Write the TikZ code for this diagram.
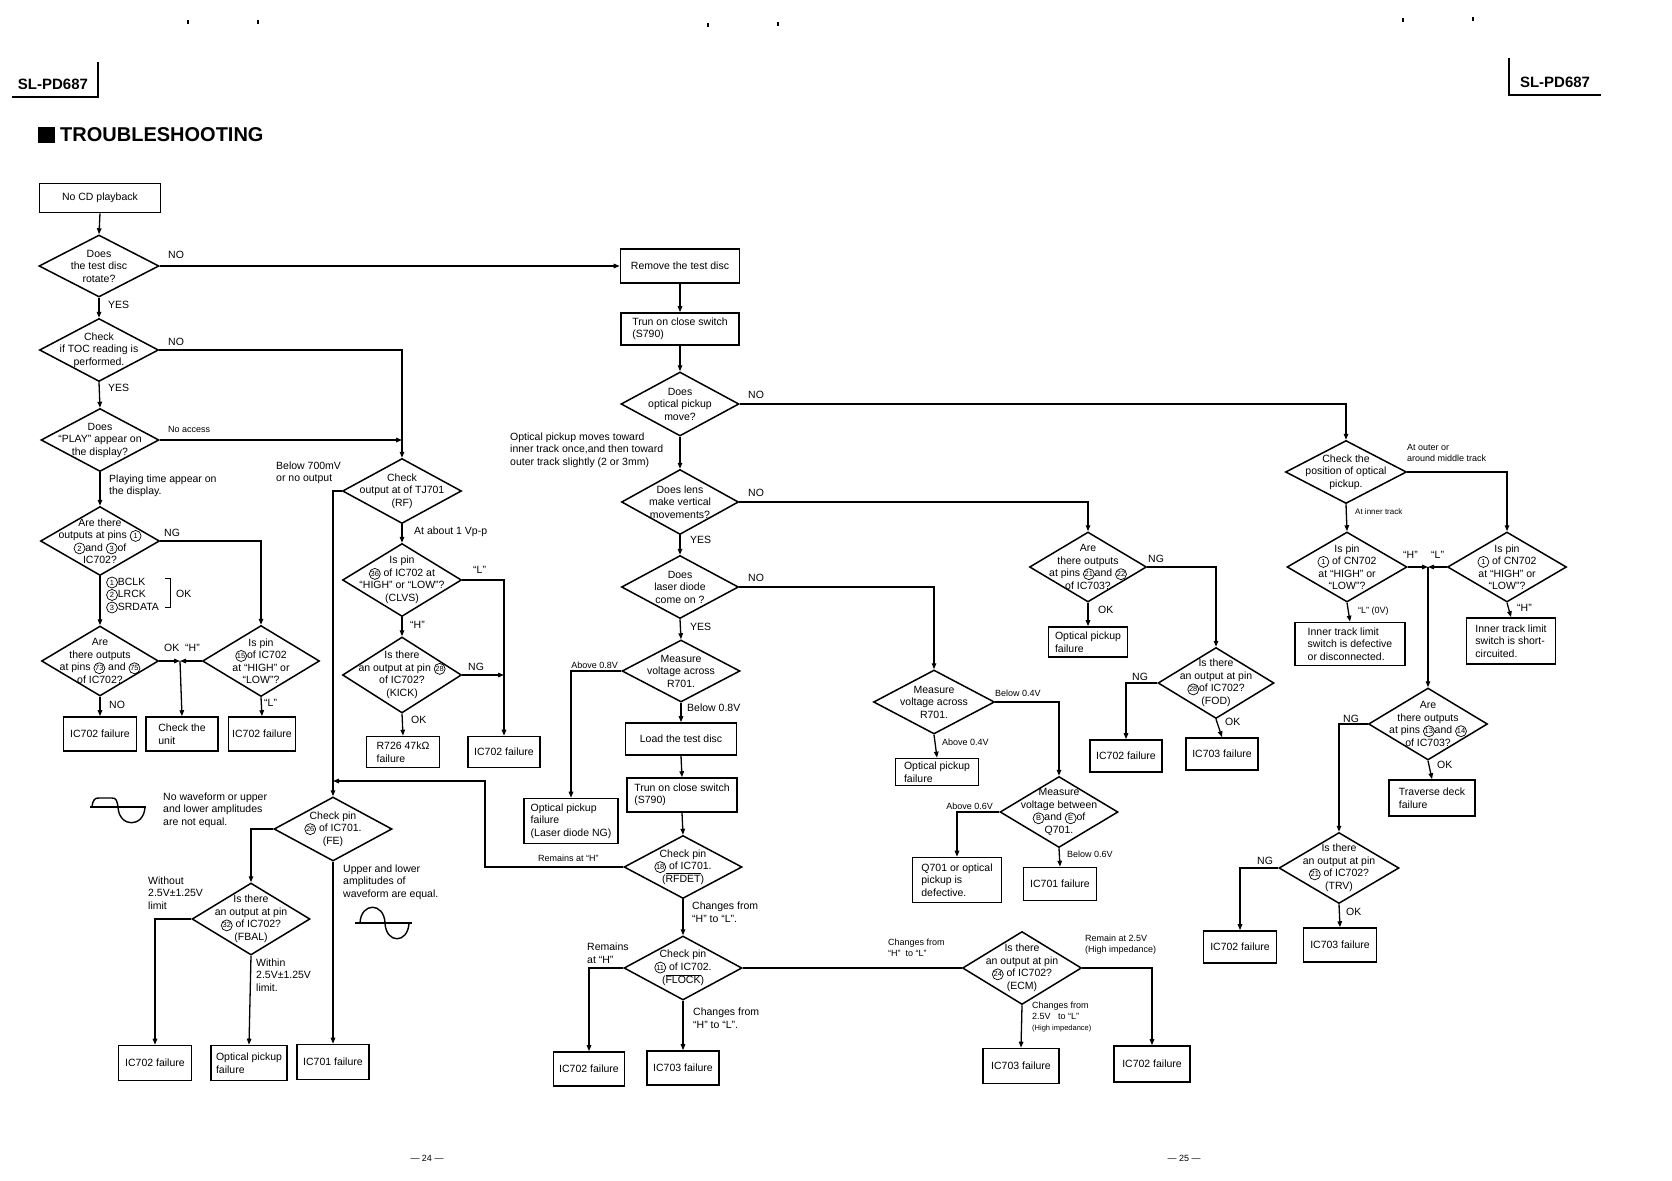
\documentclass[tikz,border=0pt]{standalone}
\usepackage{fontspec}
\setmainfont{Liberation Sans}
\usetikzlibrary{shapes.geometric,arrows.meta}
\newcommand\cn[1]{\tikz[baseline=(cnx.base)]\node[draw,circle,line width=0.7pt,inner sep=0.3pt,minimum size=11pt,font=\fontsize{7.5}{7.5}\selectfont](cnx){#1};}
\newcommand\ovl[1]{$\overline{\hbox{#1}}$}
\newcommand\Dia[6]{\node[dia,minimum width=#4,minimum height=#5] (#1) at (#2,#3) {}; \node[dtext] (#1t) at (#1) {#6};}
\tikzset{
  dia/.style={draw, diamond, line width=1.5pt, inner sep=0pt},
  dtext/.style={align=center, font=\fontsize{10.5}{12.5}\selectfont, inner sep=0pt},
  box/.style={draw, rectangle, line width=1.6pt, inner sep=2pt, font=\fontsize{10.5}{12.5}\selectfont},
  lbl/.style={font=\fontsize{10.5}{12.5}\selectfont, align=left, inner sep=0pt, anchor=west},
  slbl/.style={font=\fontsize{9}{11}\selectfont, align=left, inner sep=0pt, anchor=west},
  conn/.style={line width=1.3pt},
  arr/.style={conn, -{Triangle[length=6pt,width=4.5pt]}},
}
\begin{document}
\begin{tikzpicture}[x=1pt,y=-1pt]
\fill[white] (0,0) rectangle (1672,1180);
\useasboundingbox (0,0) rectangle (1672,1180);

% scan marks
\fill (187,20) rectangle (189,24);
\fill (257,20) rectangle (259,24);
\fill (707,23) rectangle (709,27);
\fill (777,22) rectangle (779,26);
\fill (1402,18) rectangle (1404,22);
\fill (1472,17) rectangle (1474,21);

% headers
\node[font=\fontsize{15}{15}\selectfont\bfseries] (hl) at (53,84) {SL-PD687};
\draw[line width=1.2pt] (12,97) -- (98,97) -- (98,62);
\node[font=\fontsize{15}{15}\selectfont\bfseries] (hr) at (1555,82) {SL-PD687};
\draw[line width=1.2pt] (1509,58) -- (1509,95) -- (1601,95);
\fill (38,127) rectangle (55,143);
\node[anchor=west, font=\fontsize{20}{20}\selectfont\bfseries, inner sep=0pt] (title) at (60,135) {TROUBLESHOOTING};
\node[font=\fontsize{9}{9}\selectfont] (p24) at (427,1158) {— 24 —};
\node[font=\fontsize{9}{9}\selectfont] (p25) at (1184,1158) {— 25 —};

% ---------- left column ----------
\node[box, minimum width=121, minimum height=29] (start) at (100,198) {No CD playback};
\Dia{d1}{99}{266}{120}{62}{Does\\the test disc\\rotate?}
\Dia{d2}{99}{350}{119}{63}{Check\\if TOC reading is\\performed.}
\Dia{d3}{100}{440}{118}{63}{Does\\“PLAY” appear on\\the display?}
\Dia{d4}{100}{541}{119}{69}{Are there\\outputs at pins \cn{1}\\\cn{2}and \cn{3}of\\IC702?}
\Dia{d5}{100}{661}{117}{70}{Are\\there outputs\\at pins \cn{73} and \cn{75}\\of IC702?}
\Dia{d6}{261}{661}{117}{71}{Is pin\\\cn{15}of IC702\\at “HIGH” or\\“LOW”?}
\node[box, minimum width=73, minimum height=34] (f1) at (100,734) {IC702 failure};
\node[box, minimum width=72, minimum height=34, align=left] (chk) at (182,734) {Check the\\unit};
\node[box, minimum width=67, minimum height=34] (f2) at (262,734) {IC702 failure};
\coordinate (j1) at (180,661);

\draw[arr] (start.south) -- (d1.north);
\draw[arr] (d1.south) -- (d2.north);
\draw[arr] (d2.south) -- (d3.north);
\draw[arr] (d3.south) -- (d4.north);
\draw[arr] (d4.south) -- (d5.north);
\draw[arr] (d4.east) -| (d6.north);
\draw[arr] (d5.east) -- (j1);
\draw[arr] (d6.west) -- (j1);
\draw[arr] (j1) -- (chk.north);
\draw[arr] (d5.south) -- (f1.north);
\draw[arr] (d6.south) -- (f2.north);

\node[lbl] (l1) at (168,255) {NO};
\node[lbl] (l2) at (108,305) {YES};
\node[lbl] (l3) at (168,342) {NO};
\node[lbl] (l4) at (108,388) {YES};
\node[slbl] (l5) at (168,429) {No access};
\node[lbl] (l6) at (109,486) {Playing time appear on\\the display.};
\node[lbl] (l7) at (164,533) {NG};
\node[lbl] (l8) at (106,595) {\cn{1}BCLK\\\cn{2}LRCK\\\cn{3}SRDATA};
\draw[line width=1pt] (165,578) -- (170,578) -- (170,607) -- (165,607);
\node[lbl] (l9) at (176,594) {OK};
\node[lbl] (l10) at (164,648) {OK\ \ “H”};
\node[lbl] (l11) at (109,705) {NO};
\node[lbl] (l12) at (264,703) {“L”};

% ---------- RF column ----------
\Dia{rf}{402}{491}{119}{65}{Check\\output at of TJ701\\(RF)}
\Dia{clvs}{402}{580}{119}{73}{Is pin\\\cn{36} of IC702 at\\“HIGH” or “LOW”?\\(CLVS)}
\Dia{kick}{402}{675}{119}{76}{Is there\\an output at pin \cn{28}\\of IC702?\\(KICK)}
\node[box, minimum width=73, minimum height=31, align=left] (r726) at (403,752) {R726 47kΩ\\failure};
\node[box, minimum width=72, minimum height=31] (f3) at (504,752) {IC702 failure};

\draw[arr] (d2.east) -| (rf.north);
\draw[arr] (d3.east) -- (rf.north |- d3.east);
\draw[arr] (rf.south) -- (clvs.north);
\draw[arr] (clvs.south) -- (kick.north);
\draw[arr] (clvs.east) -| (f3.north);
\draw[arr] (kick.east) -- (f3.north |- kick.east);
\draw[arr] (kick.south) -- (r726.north);

\node[lbl] (l13) at (276,473) {Below 700mV\\or no output};
\node[lbl] (l14) at (414,532) {At about 1 Vp-p};
\node[lbl] (l15) at (473,570) {“L”};
\node[lbl] (l16) at (410,625) {“H”};
\node[lbl] (l17) at (468,667) {NG};
\node[lbl] (l18) at (411,720) {OK};

% ---------- FE / FBAL ----------
\Dia{fe}{333}{829}{118}{64}{Check pin\\\cn{26} of IC701.\\(FE)}
\Dia{fbal}{251}{919}{118}{72}{Is there\\an output at pin\\\cn{32} of IC702?\\(FBAL)}
\node[box, minimum width=73, minimum height=35] (f6) at (155,1063) {IC702 failure};
\node[box, minimum width=76, minimum height=35, align=left] (opf) at (249,1063) {Optical pickup\\failure};
\node[box, minimum width=72, minimum height=35] (f701) at (333,1062) {IC701 failure};

\draw[arr] (rf.west) -| (fe.north);
\draw[arr] (fe.west) -| (fbal.north);
\draw[arr] (fe.south) -- (f701.north);
\draw[arr] (fbal.west) -| (f6.north);
\draw[arr] (fbal.south) -- (opf.north);

\node[lbl] (l19) at (163,810) {No waveform or upper\\and lower amplitudes\\are not equal.};
\node[lbl] (l20) at (343,882) {Upper and lower\\amplitudes of\\waveform are equal.};
\node[lbl] (l21) at (148,893) {Without\\2.5V±1.25V\\limit};
\node[lbl] (l22) at (256,975) {Within\\2.5V±1.25V\\limit.};

% waveforms
\draw[line width=1.2pt] (90,807) -- (146,807);
\draw[line width=1.4pt] (92,807) .. controls (93,799) and (95,798) .. (99,798) -- (112,798) .. controls (116,798) and (117,800) .. (118,807) .. controls (119,828) and (144,828) .. (145,807);
\draw[line width=1.2pt] (355,923) -- (412,923);
\draw[line width=1.4pt] (360,923) .. controls (361,902) and (384,902) .. (385,923) .. controls (386,944) and (408,944) .. (409,923);

% ---------- centre column ----------
\node[box, minimum width=119, minimum height=34] (rem) at (680,266) {Remove the test disc};
\node[box, minimum width=118, minimum height=32, align=left] (trun1) at (680,329) {Trun on close switch\\(S790)};
\Dia{mv}{680}{404}{118}{64}{Does\\optical pickup\\move?}
\Dia{lens}{680}{502}{117}{65}{Does lens\\make vertical\\movements?}
\Dia{laser}{680}{587}{117}{63}{Does\\laser diode\\come on ?}
\Dia{ra}{681}{671}{118}{62}{Measure\\voltage across\\R701.}
\node[box, minimum width=94, minimum height=45, align=left] (opl) at (571,821) {Optical pickup\\failure\\(Laser diode NG)};
\node[box, minimum width=111, minimum height=32] (load) at (681,739) {Load the test disc};
\node[box, minimum width=110, minimum height=34, align=left] (trun2) at (682,795) {Trun on close switch\\(S790)};
\Dia{rfdet}{683}{867}{118}{63}{Check pin\\\cn{18} of IC701.\\(\ovl{RFDET})}
\Dia{flock}{683}{968}{118}{64}{Check pin\\\cn{11} of IC702.\\(\ovl{FLOCK})}
\node[box, minimum width=71, minimum height=34] (f5) at (589,1069) {IC702 failure};
\node[box, minimum width=72, minimum height=34] (f703a) at (683,1068) {IC703 failure};
\coordinate (c1) at (485,781);
\coordinate (c2) at (333,781);

\draw[arr] (d1.east) -- (rem.west);
\draw[arr] (rem.south) -- (trun1.north);
\draw[arr] (trun1.south) -- (mv.north);
\draw[arr] (mv.south) -- (lens.north);
\draw[arr] (lens.south) -- (laser.north);
\draw[arr] (laser.south) -- (ra.north);
\draw[arr] (ra.west) -| (opl.north);
\draw[arr] (ra.south) -- (load.north);
\draw[arr] (load.south) -- (trun2.north);
\draw[arr] (trun2.south) -- (rfdet.north);
\draw[arr] (rfdet.west) -| (c1) -- (c2);
\draw[arr] (rfdet.south) -- (flock.north);
\draw[arr] (flock.west) -| (f5.north);
\draw[arr] (flock.south) -- (f703a.north);

\node[lbl] (l23) at (748,395) {NO};
\node[lbl] (l24) at (510,450) {Optical pickup moves toward\\inner track once,and then toward\\outer track slightly (2 or 3mm)};
\node[lbl] (l25) at (748,493) {NO};
\node[lbl] (l26) at (690,540) {YES};
\node[lbl] (l27) at (748,578) {NO};
\node[lbl] (l28) at (690,627) {YES};
\node[slbl, anchor=east] (l29) at (618,665) {Above 0.8V};
\node[lbl] (l30) at (687,708) {Below 0.8V};
\node[slbl] (l31) at (538,858) {Remains at “H”};
\node[lbl] (l32) at (692,912) {Changes from\\“H” to “L”.};
\node[lbl] (l33) at (587,953) {Remains\\at “H”};
\node[lbl] (l34) at (693,1018) {Changes from\\“H” to “L”.};

% ---------- right-centre ----------
\Dia{o703}{1088}{567}{117}{70}{Are\\there outputs\\at pins \cn{21}and \cn{22}\\of IC703?}
\node[box, minimum width=79, minimum height=30, align=left] (opr) at (1088,642) {Optical pickup\\failure};
\Dia{fod}{1216}{683}{116}{71}{Is there\\an output at pin\\\cn{28}of IC702?\\(FOD)}
\node[box, minimum width=72, minimum height=32] (f7) at (1126,756) {IC702 failure};
\node[box, minimum width=72, minimum height=32] (f703b) at (1222,754) {IC703 failure};
\Dia{rb}{934}{702}{121}{64}{Measure\\voltage across\\R701.}
\node[box, minimum width=83, minimum height=27, align=left] (opm) at (937,772) {Optical pickup\\failure};
\Dia{q701}{1059}{812}{118}{71}{Measure\\voltage between\\\cn{B}and \cn{E}of\\Q701.}
\node[box, minimum width=89, minimum height=45, align=left] (q701b) at (957,880) {Q701 or optical\\pickup is\\defective.};
\node[box, minimum width=73, minimum height=33] (f701b) at (1060,884) {IC701 failure};
\Dia{ecm}{1022}{968}{119}{73}{Is there\\an output at pin\\\cn{24} of IC702?\\(ECM)}
\node[box, minimum width=76, minimum height=35] (f703c) at (1021,1066) {IC703 failure};
\node[box, minimum width=76, minimum height=36] (f8) at (1152,1064) {IC702 failure};

\draw[arr] (lens.east) -| (o703.north);
\draw[arr] (o703.south) -- (opr.north);
\draw[arr] (o703.east) -| (fod.north);
\draw[arr] (fod.west) -| (f7.north);
\draw[arr] (fod.south) -- (f703b.north);
\draw[arr] (laser.east) -| (rb.north);
\draw[arr] (rb.south) -- (opm.north);
\draw[arr] (rb.east) -| (q701.north);
\draw[arr] (q701.west) -| (q701b.north);
\draw[arr] (q701.south) -- (f701b.north);
\draw[conn] (flock.east) -- (ecm.west);
\draw[arr] (ecm.south) -- (f703c.north);
\draw[arr] (ecm.east) -| (f8.north);

\node[lbl] (l35) at (1148,559) {NG};
\node[lbl] (l36) at (1098,610) {OK};
\node[lbl] (l37) at (1132,677) {NG};
\node[lbl] (l38) at (1225,722) {OK};
\node[slbl] (l39) at (995,693) {Below 0.4V};
\node[slbl] (l40) at (942,742) {Above 0.4V};
\node[slbl, anchor=east] (l41) at (993,806) {Above 0.6V};
\node[slbl] (l42) at (1067,854) {Below 0.6V};
\node[slbl] (l43) at (888,948) {Changes from\\“H”\ \ to “L”};
\node[slbl] (l44) at (1085,945) {Remain at 2.5V\\(High impedance)};
\node[slbl] (l45) at (1032,1017) {Changes from\\2.5V\ \ \ to “L”\\{\fontsize{7.5}{8}\selectfont(High impedance)}};

% ---------- right column ----------
\Dia{pos}{1346}{472}{121}{63}{Check the\\position of optical\\pickup.}
\Dia{cnl}{1347}{567}{120}{70}{Is pin\\\cn{1} of CN702\\at “HIGH” or\\“LOW”?}
\Dia{cnr}{1507}{567}{119}{70}{Is pin\\\cn{1} of CN702\\at “HIGH” or\\“LOW”?}
\node[box, minimum width=110, minimum height=43, align=left] (in1) at (1350,644) {Inner track limit\\switch is defective\\or disconnected.};
\node[box, minimum width=89, minimum height=46, align=left] (in2) at (1511,641) {Inner track limit\\switch is short-\\circuited.};
\Dia{o7032}{1428}{724}{119}{72}{Are\\there outputs\\at pins \cn{13}and \cn{14}\\of IC703?}
\node[box, minimum width=86, minimum height=36, align=left] (trav) at (1432,798) {Traverse deck\\failure};
\Dia{trv}{1339}{868}{120}{71}{Is there\\an output at pin\\\cn{21} of IC702?\\(TRV)}
\node[box, minimum width=73, minimum height=32] (f9) at (1240,947) {IC702 failure};
\node[box, minimum width=73, minimum height=34] (f703d) at (1340,945) {IC703 failure};
\coordinate (j2) at (1428,567);

\draw[arr] (mv.east) -| (pos.north);
\draw[arr] (pos.south) -- (cnl.north);
\draw[arr] (pos.east) -| (cnr.north);
\draw[arr] (cnl.east) -- (j2);
\draw[arr] (cnr.west) -- (j2);
\draw[arr] (j2) -- (o7032.north);
\draw[arr] (cnl.south) -- (in1.north);
\draw[arr] (cnr.south) -- (in2.north);
\draw[arr] (o7032.south) -- (trav.north);
\draw[arr] (o7032.west) -| (trv.north);
\draw[arr] (trv.west) -| (f9.north);
\draw[arr] (trv.south) -- (f703d.north);

\node[slbl] (l46) at (1407,453) {At outer or\\around middle track};
\node[font=\fontsize{8}{9}\selectfont, anchor=west, inner sep=0pt] (l47) at (1355,512) {At inner track};
\node[lbl] (l48) at (1403,555) {“H”};
\node[lbl] (l49) at (1431,555) {“L”};
\node[slbl] (l50) at (1358,611) {“L” (0V)};
\node[lbl] (l51) at (1517,608) {“H”};
\node[lbl] (l52) at (1343,719) {NG};
\node[lbl] (l53) at (1437,765) {OK};
\node[lbl] (l54) at (1257,861) {NG};
\node[lbl] (l55) at (1346,912) {OK};
\end{tikzpicture}
\end{document}
